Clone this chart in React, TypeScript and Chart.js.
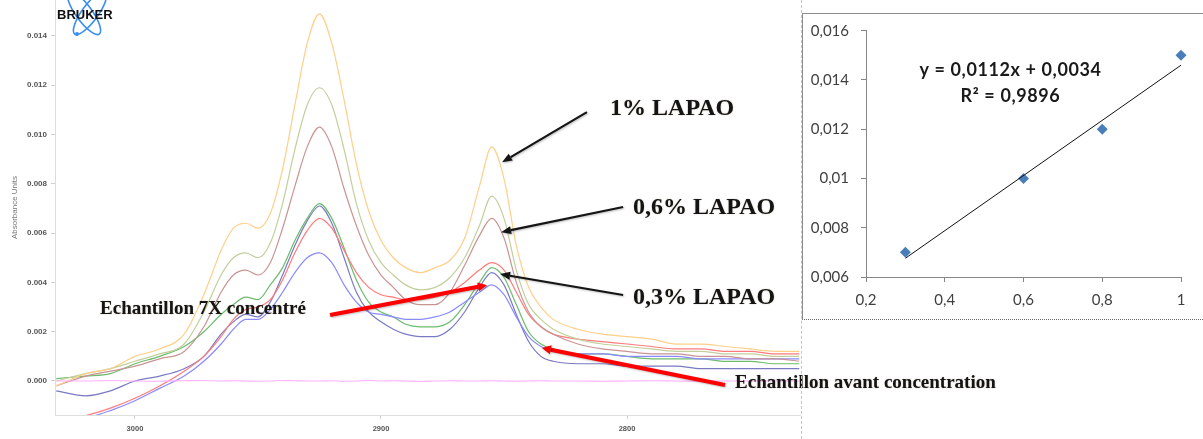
import React, { useEffect, useRef } from 'react';
import { Chart, registerables } from 'chart.js';
Chart.register(...registerables);

// ---------------- Spectrum (left chart) data ----------------
const wavenumbers = [3032, 3020, 3010, 3000, 2990, 2980, 2972, 2965, 2960, 2955, 2950, 2945, 2940, 2935, 2930, 2925, 2920, 2915, 2910, 2905, 2900, 2895, 2890, 2884, 2878, 2872, 2866, 2860, 2855, 2850, 2845, 2840, 2835, 2830, 2820, 2810, 2800, 2790, 2780, 2770, 2760, 2750, 2740, 2730];

const absOrange = [-0.0002, 0.0003, 0.0005, 0.0010, 0.0013, 0.0019, 0.0035, 0.0053, 0.0062, 0.0064, 0.0062, 0.0068, 0.0086, 0.0112, 0.0137, 0.0149, 0.0137, 0.0114, 0.0088, 0.0069, 0.0057, 0.0050, 0.0046, 0.0044, 0.0046, 0.0049, 0.0058, 0.0079, 0.0095, 0.0082, 0.0055, 0.0038, 0.0030, 0.0025, 0.0021, 0.0019, 0.0018, 0.0017, 0.0015, 0.0015, 0.0014, 0.0013, 0.0012, 0.0012];
const absOlive = [0.0000, 0.0003, 0.0005, 0.0008, 0.0011, 0.0015, 0.0028, 0.0043, 0.0050, 0.0052, 0.0050, 0.0056, 0.0072, 0.0094, 0.0112, 0.0119, 0.0112, 0.0094, 0.0072, 0.0057, 0.0048, 0.0043, 0.0039, 0.0037, 0.0038, 0.0042, 0.0050, 0.0063, 0.0075, 0.0066, 0.0045, 0.0031, 0.0025, 0.0021, 0.0017, 0.0015, 0.0014, 0.0013, 0.0012, 0.0012, 0.0011, 0.0011, 0.0010, 0.0010];
const absRose = [-0.0002, 0.0002, 0.0004, 0.0006, 0.0009, 0.0012, 0.0022, 0.0036, 0.0043, 0.0045, 0.0043, 0.0048, 0.0062, 0.0079, 0.0095, 0.0103, 0.0095, 0.0078, 0.0063, 0.0051, 0.0043, 0.0038, 0.0033, 0.0031, 0.0031, 0.0036, 0.0047, 0.0059, 0.0066, 0.0058, 0.0040, 0.0028, 0.0022, 0.0019, 0.0015, 0.0013, 0.0012, 0.0011, 0.0011, 0.0010, 0.0010, 0.0009, 0.0009, 0.0008];
const absGreen = [0.0001, 0.0002, 0.0003, 0.0007, 0.0010, 0.0014, 0.0020, 0.0027, 0.0031, 0.0034, 0.0033, 0.0039, 0.0046, 0.0057, 0.0066, 0.0072, 0.0066, 0.0054, 0.0041, 0.0032, 0.0028, 0.0026, 0.0023, 0.0022, 0.0022, 0.0024, 0.0031, 0.0040, 0.0046, 0.0042, 0.0031, 0.0020, 0.0015, 0.0013, 0.0011, 0.0011, 0.0010, 0.0009, 0.0009, 0.0009, 0.0008, 0.0008, 0.0007, 0.0007];
const absPurple = [-0.0004, -0.0006, -0.0004, 0.0000, 0.0002, 0.0005, 0.0010, 0.0019, 0.0024, 0.0027, 0.0026, 0.0032, 0.0043, 0.0055, 0.0065, 0.0071, 0.0064, 0.0050, 0.0036, 0.0028, 0.0024, 0.0021, 0.0019, 0.0018, 0.0018, 0.0021, 0.0028, 0.0038, 0.0044, 0.0039, 0.0027, 0.0016, 0.0010, 0.0008, 0.0007, 0.0007, 0.0006, 0.0006, 0.0006, 0.0005, 0.0005, 0.0005, 0.0005, 0.0005];
const absRed = [-0.0016, -0.0014, -0.0011, -0.0007, -0.0002, 0.0004, 0.0010, 0.0018, 0.0025, 0.0029, 0.0030, 0.0033, 0.0041, 0.0052, 0.0061, 0.0066, 0.0062, 0.0053, 0.0044, 0.0038, 0.0035, 0.0034, 0.0033, 0.0033, 0.0034, 0.0036, 0.0040, 0.0045, 0.0048, 0.0045, 0.0036, 0.0027, 0.0022, 0.0019, 0.0017, 0.0016, 0.0015, 0.0014, 0.0013, 0.0013, 0.0012, 0.0012, 0.0011, 0.0011];
const absBlue = [-0.0016, -0.0015, -0.0012, -0.0008, -0.0003, 0.0002, 0.0008, 0.0015, 0.0021, 0.0025, 0.0025, 0.0029, 0.0036, 0.0044, 0.0050, 0.0052, 0.0048, 0.0039, 0.0032, 0.0028, 0.0027, 0.0026, 0.0025, 0.0025, 0.0026, 0.0028, 0.0032, 0.0036, 0.0039, 0.0035, 0.0026, 0.0018, 0.0014, 0.0012, 0.0011, 0.0011, 0.0010, 0.0010, 0.0010, 0.0009, 0.0009, 0.0009, 0.0009, 0.0009];
const absPink = [0.0000, 0.0000, 0.00002, 0.0000, -0.00001, 0.00001, 0.00002, 0.0000, 0.00001, 0.0000, -0.00001, 0.0000, 0.00002, 0.00001, 0.0000, 0.0000, 0.00001, -0.00001, 0.0000, 0.00002, 0.0000, 0.00001, 0.0000, -0.00002, 0.0000, 0.00001, 0.0000, 0.0000, 0.00001, 0.0000, -0.00001, 0.0000, 0.00001, 0.0000, 0.0000, -0.00001, 0.0000, 0.00001, 0.0000, -0.00001, 0.0000, 0.0000, 0.00001, 0.0000];

const spectrumXTicks = [3000, 2900, 2800];
const spectrumYTicks = [0, 0.002, 0.004, 0.006, 0.008, 0.010, 0.012, 0.014];

// ---------------- Calibration (right chart) data ----------------
const concentrations = [0.3, 0.6, 0.8, 1];
const absorbances = [0.007, 0.010, 0.012, 0.015];
const calibXTicks = [0.2, 0.4, 0.6, 0.8, 1];
const calibYTicks = [0.006, 0.008, 0.01, 0.012, 0.014, 0.016];
const trendX = [0.3, 1];
const trendY = [0.00676, 0.0146];
const equationText = 'y = 0,0112x + 0,0034';
const r2Text = 'R² = 0,9896';

// ---------------- Styling / annotation config ----------------
const seriesStyle = [
  { values: absPink, color: '#ffb0ff' },
  { values: absOrange, color: '#ffcf8a' },
  { values: absOlive, color: '#c2cf9c' },
  { values: absRose, color: '#c99494' },
  { values: absBlue, color: '#8a8aff' },
  { values: absRed, color: '#ff7b7b' },
  { values: absGreen, color: '#6cbc6c' },
  { values: absPurple, color: '#7a7ac4' },
];

const arrowAnnotations = [
  { from: [2816.3, 0.01091], to: [2850.8, 0.00888], color: '#151515', width: 2.2, head: 10, headW: 8 },
  { from: [2801.6, 0.00706], to: [2851.2, 0.00604], color: '#151515', width: 2.2, head: 10, headW: 8 },
  { from: [2801.6, 0.00349], to: [2851.6, 0.00434], color: '#151515', width: 2.2, head: 10, headW: 8 },
  { from: [2920.7, 0.00268], to: [2856.9, 0.00389], color: '#ff0000', width: 4, head: 9, headW: 9 },
  { from: [2760.2, -0.00016], to: [2834.6, 0.00134], color: '#ff0000', width: 4, head: 9, headW: 9 },
];
const textAnnotations = [
  { text: '1% LAPAO', at: [2806.9, 0.01104], font: 'bold 24px "Liberation Serif"' },
  { text: '0,6% LAPAO', at: [2797.6, 0.00702], font: 'bold 24px "Liberation Serif"' },
  { text: '0,3% LAPAO', at: [2797.6, 0.00337], font: 'bold 24px "Liberation Serif"' },
  { text: 'Echantillon 7X concentré', at: [3014.2, 0.00292], font: 'bold 19px "Liberation Serif"' },
  { text: 'Echantillon avant concentration', at: [2756.1, -0.00008], font: 'bold 19px "Liberation Serif"' },
];
const equationPos = [0.567, 0.0144];
const r2Pos = [0.567, 0.01336];

function drawArrow(ctx: CanvasRenderingContext2D, x1: number, y1: number, x2: number, y2: number, color: string, width: number, head: number, headW: number) {
  const ang = Math.atan2(y2 - y1, x2 - x1);
  const bx = x2 - head * Math.cos(ang);
  const by = y2 - head * Math.sin(ang);
  ctx.save();
  ctx.strokeStyle = color;
  ctx.fillStyle = color;
  ctx.lineWidth = width;
  ctx.shadowColor = 'rgba(0,0,0,0.25)';
  ctx.shadowBlur = 2;
  ctx.shadowOffsetX = 1;
  ctx.shadowOffsetY = 1;
  ctx.beginPath();
  ctx.moveTo(x1, y1);
  ctx.lineTo(bx, by);
  ctx.stroke();
  ctx.beginPath();
  ctx.moveTo(x2, y2);
  ctx.lineTo(bx + (headW / 2) * Math.sin(ang), by - (headW / 2) * Math.cos(ang));
  ctx.lineTo(bx - (headW / 2) * Math.sin(ang), by + (headW / 2) * Math.cos(ang));
  ctx.closePath();
  ctx.fill();
  ctx.restore();
}

const spectrumAnnotPlugin = {
  id: 'spectrumAnnot',
  afterDraw(chart: any) {
    const ctx: CanvasRenderingContext2D = chart.ctx;
    const xs = chart.scales.x;
    const ys = chart.scales.y;
    const L = chart.chartArea.left;
    // Bruker logo
    ctx.save();
    ctx.strokeStyle = '#3b8ef0';
    ctx.lineWidth = 1.6;
    ctx.beginPath();
    ctx.ellipse(L + 29, 13, 26, 8, Math.PI * 0.3, 0, Math.PI * 2);
    ctx.stroke();
    ctx.beginPath();
    ctx.ellipse(L + 35, 13, 26, 8, -Math.PI * 0.3, 0, Math.PI * 2);
    ctx.stroke();
    ctx.fillStyle = '#3b8ef0';
    ctx.beginPath();
    ctx.arc(L + 22, 34, 2, 0, Math.PI * 2);
    ctx.fill();
    ctx.font = 'bold 13px "Liberation Sans"';
    ctx.fillStyle = '#111';
    ctx.textBaseline = 'middle';
    ctx.textAlign = 'left';
    ctx.fillText('BRUKER', L + 2, 15);
    ctx.restore();

    arrowAnnotations.forEach((a) => {
      drawArrow(ctx, xs.getPixelForValue(a.from[0]), ys.getPixelForValue(a.from[1]), xs.getPixelForValue(a.to[0]), ys.getPixelForValue(a.to[1]), a.color, a.width, a.head, a.headW);
    });
    ctx.save();
    ctx.textBaseline = 'middle';
    ctx.textAlign = 'left';
    ctx.fillStyle = '#141414';
    ctx.shadowColor = 'rgba(90,60,0,0.35)';
    ctx.shadowBlur = 1.5;
    textAnnotations.forEach((t) => {
      ctx.font = t.font;
      ctx.fillText(t.text, xs.getPixelForValue(t.at[0]), ys.getPixelForValue(t.at[1]));
    });
    ctx.restore();
  },
};

const calibAnnotPlugin = {
  id: 'calibAnnot',
  afterDraw(chart: any) {
    const ctx: CanvasRenderingContext2D = chart.ctx;
    const xs = chart.scales.x;
    const ys = chart.scales.y;
    ctx.save();
    ctx.fillStyle = '#1a1a1a';
    ctx.textAlign = 'center';
    ctx.textBaseline = 'middle';
    ctx.font = 'bold 18px Lato';
    (ctx as any).letterSpacing = '0.6px';
    ctx.fillText(equationText, xs.getPixelForValue(equationPos[0]), ys.getPixelForValue(equationPos[1]));
    ctx.fillText(r2Text, xs.getPixelForValue(r2Pos[0]), ys.getPixelForValue(r2Pos[1]));
    ctx.restore();
  },
};

const commaFmt = (v: number) => String(Number(Number(v).toFixed(3))).replace('.', ',');
const setTicks = (list: number[]) => (s: any) => { s.ticks = list.map((value) => ({ value })); };

export default function App() {
  const leftRef = useRef<HTMLCanvasElement | null>(null);
  const rightRef = useRef<HTMLCanvasElement | null>(null);

  useEffect(() => {
    if (!leftRef.current || !rightRef.current) return;
    const left = new Chart(leftRef.current, {
      type: 'line',
      data: {
        datasets: seriesStyle.map((s) => ({
          data: wavenumbers.map((w, i) => ({ x: w, y: s.values[i] })),
          borderColor: s.color,
          borderWidth: 1.2,
          pointRadius: 0,
          cubicInterpolationMode: 'monotone' as const,
          fill: false,
        })),
      },
      options: {
        animation: false,
        responsive: false,
        devicePixelRatio: 1,
        layout: { padding: { left: 0, top: 0, right: 403, bottom: 0 } },
        plugins: { legend: { display: false }, tooltip: { enabled: false } },
        scales: {
          x: {
            type: 'linear',
            reverse: true,
            min: 2729.7,
            max: 3032.5,
            afterBuildTicks: setTicks(spectrumXTicks),
            afterFit: (s: any) => { s.height = 24; s.paddingLeft = 0; s.paddingRight = 0; },
            ticks: {
              autoSkip: false,
              maxRotation: 0,
              padding: 5,
              color: '#555',
              font: { size: 7.5, family: '"Liberation Sans"', weight: 'bold' },
              callback: (v: any) => String(v),
            },
            grid: { drawOnChartArea: false, tickLength: 4, color: '#d0d0d0' },
            border: { color: '#dddddd' },
          },
          y: {
            type: 'linear',
            min: -0.00138,
            max: 0.01546,
            afterBuildTicks: setTicks(spectrumYTicks),
            afterFit: (s: any) => { s.width = 55; s.paddingTop = 0; s.paddingBottom = 0; },
            ticks: {
              padding: 4,
              color: '#555',
              font: { size: 8, family: '"Liberation Sans"', weight: 'bold' },
              callback: (v: any) => Number(v).toFixed(3),
            },
            grid: { drawOnChartArea: false, tickLength: 4, color: '#d0d0d0' },
            border: { color: '#dddddd' },
            title: {
              display: true,
              text: 'Absorbance Units',
              color: '#777',
              font: { size: 8, family: '"Liberation Sans"' },
              padding: { top: 10, bottom: 0 },
            },
          },
        },
      },
      plugins: [spectrumAnnotPlugin],
    } as any);

    const right = new Chart(rightRef.current, {
      type: 'scatter',
      data: {
        datasets: [
          {
            type: 'line',
            data: trendX.map((x, i) => ({ x, y: trendY[i] })),
            borderColor: '#111',
            borderWidth: 1,
            pointRadius: 0,
            fill: false,
          },
          {
            type: 'scatter',
            data: concentrations.map((x, i) => ({ x, y: absorbances[i] })),
            pointStyle: 'rectRot',
            pointRadius: 5.5,
            backgroundColor: '#4a7ebb',
            borderColor: '#4a7ebb',
            borderWidth: 0,
            clip: false,
          },
        ],
      },
      options: {
        animation: false,
        responsive: false,
        devicePixelRatio: 1,
        layout: { padding: { left: 0, top: 17.7, right: 22, bottom: 0 } },
        plugins: { legend: { display: false }, tooltip: { enabled: false } },
        scales: {
          x: {
            type: 'linear',
            min: 0.2,
            max: 1,
            afterBuildTicks: setTicks(calibXTicks),
            afterFit: (s: any) => { s.height = 43; s.paddingLeft = 0; s.paddingRight = 0; },
            ticks: {
              autoSkip: false,
              maxRotation: 0,
              padding: 9,
              color: '#404040',
              font: { size: 15, family: 'Lato' },
              callback: (v: any) => commaFmt(v),
            },
            grid: { drawOnChartArea: false, tickLength: 5, color: '#868686' },
            border: { color: '#868686' },
          },
          y: {
            type: 'linear',
            min: 0.006,
            max: 0.016,
            afterBuildTicks: setTicks(calibYTicks),
            afterFit: (s: any) => { s.width = 64; s.paddingTop = 0; s.paddingBottom = 0; },
            ticks: {
              padding: 12,
              color: '#404040',
              font: { size: 15, family: 'Lato' },
              callback: (v: any) => commaFmt(v),
            },
            grid: { drawOnChartArea: false, tickLength: 5, color: '#868686' },
            border: { color: '#868686' },
          },
        },
      },
      plugins: [calibAnnotPlugin],
    } as any);

    return () => {
      left.destroy();
      right.destroy();
    };
  }, []);

  return (
    <div style={{ position: 'absolute', left: 0, top: 0, width: 1203, height: 439, background: '#fff', overflow: 'hidden' }}>
      <canvas ref={leftRef} width={1203} height={439} style={{ position: 'absolute', left: 0, top: 0, width: 1203, height: 439 }} />
      <div style={{ position: 'absolute', left: 801, top: 0, width: 0, height: 439, borderLeft: '1px dashed #c4c4c4' }} />
      <div
        style={{
          position: 'absolute',
          left: 802,
          top: 13,
          width: 401,
          height: 307,
          boxSizing: 'border-box',
          borderTop: '1px solid #8c8c8c',
          borderLeft: '1px solid #8c8c8c',
          borderBottom: '1px dotted #666',
          background: '#fff',
        }}
      />
      <canvas ref={rightRef} width={401} height={307} style={{ position: 'absolute', left: 802, top: 13, width: 401, height: 307 }} />
    </div>
  );
}
